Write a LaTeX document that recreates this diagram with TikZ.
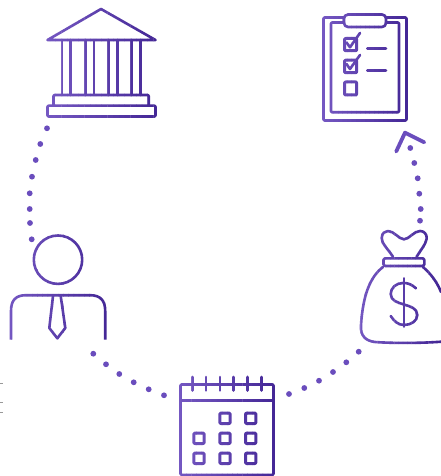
\documentclass[tikz,border=0pt]{standalone}
\definecolor{pl}{HTML}{7558C2}
\definecolor{pd}{HTML}{442796}
\definecolor{dotc}{HTML}{6A4DBD}
\tikzset{
  x=1pt,y=-1pt,
  iconline/.style={line width=2.6pt,line cap=round,line join=round},
  thickline/.style={line width=3pt},
  dotmark/.style={fill=dotc},
  edgetick/.style={draw=black!40,line width=1pt},
}
% draws #5 in vertical strips between x=#1 and x=#3, light to dark
\newcommand\gradicon[5]{%
  \foreach \s in {0,...,19}{%
    \pgfmathsetmacro\pc{100-\s*100/19}%
    \pgfmathsetmacro\xa{#1+(#3-#1)*\s/20}%
    \pgfmathsetmacro\xb{#1+(#3-#1)*(\s+1)/20+0.4}%
    \colorlet{cur}{pl!\pc!pd}%
    \begin{scope}
      \clip (\xa,#2) rectangle (\xb,#4);
      \begin{scope}[iconline,draw=cur,color=cur]#5\end{scope}
    \end{scope}
  }%
}
\begin{document}
\begin{tikzpicture}
\useasboundingbox (0,0) rectangle (441,476);
% bank
\gradicon{44}{4}{159}{120}{
\draw (47.5,40) -- (101,9) -- (155.5,40) -- cycle;
\foreach \x in {62,70.7,85.3,94,108.7,117.3,131.7,140.3} \draw (\x,40) -- (\x,95);
\draw[rounded corners=1pt] (53.5,105) -- (53.5,95) -- (148.7,95) -- (148.7,105);
\draw[rounded corners=1pt] (47.5,105.7) rectangle (155.5,116.5);
}
% clipboard
\gradicon{320}{10}{410}{124}{
\draw[rounded corners=1pt] (344,17.5) -- (323.5,17.5) -- (323.5,120.5) -- (406.5,120.5) -- (406.5,17.5) -- (386,17.5);
\draw[rounded corners=1pt] (344,22.5) -- (331,22.5) -- (331,112.3) -- (399,112.3) -- (399,22.5) -- (386,22.5);
\draw[rounded corners=4pt] (344,14.5) rectangle (386,27);
\draw[thickline,rounded corners=1pt] (344.5,38.5) rectangle (356.7,50.7);
\draw[thickline,rounded corners=1pt] (344.5,60.2) rectangle (356.7,72.7);
\draw[thickline,rounded corners=1pt] (344.5,82) rectangle (356.7,95);
\draw (346.5,42.5) -- (350,47.3) -- (360,33);
\draw (346.5,64) -- (350,69) -- (360,55);
\draw (367.3,48.3) -- (386,48.3);
\draw (367.3,70.7) -- (386,70.7);
}
% arrow head
\draw[draw=dotc,line width=3.8pt,line cap=round,line join=round] (396.2,151.5) -- (405,132.7) -- (424.3,142.3);
% money bag
\gradicon{356}{226}{441}{348}{
\draw (393,256.7) .. controls (387,248) and (381.5,243) .. (381.7,238) .. controls (382,233) and (385,231) .. (388,231) .. controls (394,231) and (399,239.3) .. (404,239.3) .. controls (409,239.3) and (414,231) .. (420,231) .. controls (424,231) and (427,234) .. (426.7,238.5) .. controls (426,244) and (420,251) .. (416.7,256.7);
\draw[rounded corners=1.5pt] (383.5,258.3) rectangle (424.3,266);
\draw (383,267) .. controls (370,277) and (363,295) .. (361,325) .. controls (360,336) and (366,341) .. (375,342) .. controls (395,343.5) and (425,343) .. (441,341.7);
\draw (423,267) .. controls (431,274) and (437,282) .. (441,292);
\draw (404,278.3) -- (404,326.7);
\draw (416,288.3) .. controls (411,284) and (408,283) .. (403,283) .. controls (396,283) and (390.7,288) .. (390.7,294) .. controls (390.7,307) and (417.3,302) .. (417.3,315) .. controls (417.3,321) and (411,325) .. (404,325) .. controls (398,325) and (394,321) .. (390.7,316);
}
% calendar
\gradicon{176}{372}{278}{478}{
\draw[rounded corners=1pt] (180.5,384.5) rectangle (273.5,474.8);
\draw (180.5,400.7) -- (273.5,400.7);
\foreach \x in {192.3,206,220,233.7,247.7,261.3} \draw (\x,377) -- (\x,390.5);
\foreach \x/\y in {225/418.3,250.7/418.3,199/438.3,225/438.3,250.7/438.3,199/458.3,225/458.3,250.7/458.3}
  \draw[thickline,rounded corners=1pt] (\x-5.2,\y-5.2) rectangle (\x+5.2,\y+5.2);
}
% person
\gradicon{6}{230}{110}{344}{
\draw (58,259.7) circle[radius=24.2];
\draw[line cap=butt] (11,339.5) -- (11,311) .. controls (11,300) and (16,295.2) .. (26,295.2) -- (90,295.2) .. controls (100,295.2) and (105.2,300) .. (105.2,311) -- (105.2,339.5);
\draw (53,296) -- (49.3,328) -- (57.3,338.3) -- (65.3,328) -- (60.7,296);
}
% dots
\foreach \x/\y in {47/128.3,40.3/144,35.7/160,32/176.7,29.7/193.3,29.7/209,30/223,31.7/239.3,
  93.3/353.7,106/364.3,119.3/374,133.7/382.3,148.7/389.3,164/395.3,
  289/394,304.3/388,319/380.7,333/372,346.3/362.3,358.7/351.7,
  410.3/148,414.3/163,417.7/178.3,419.3/193.7,420.7/209,420/220.7}
  \fill[dotmark] (\x,\y) circle[radius=2.9];
% clipped marks at the left edge
\foreach \y in {383,402.7,412.7} \draw[edgetick] (0,\y) -- (3,\y);
\end{tikzpicture}
\end{document}
